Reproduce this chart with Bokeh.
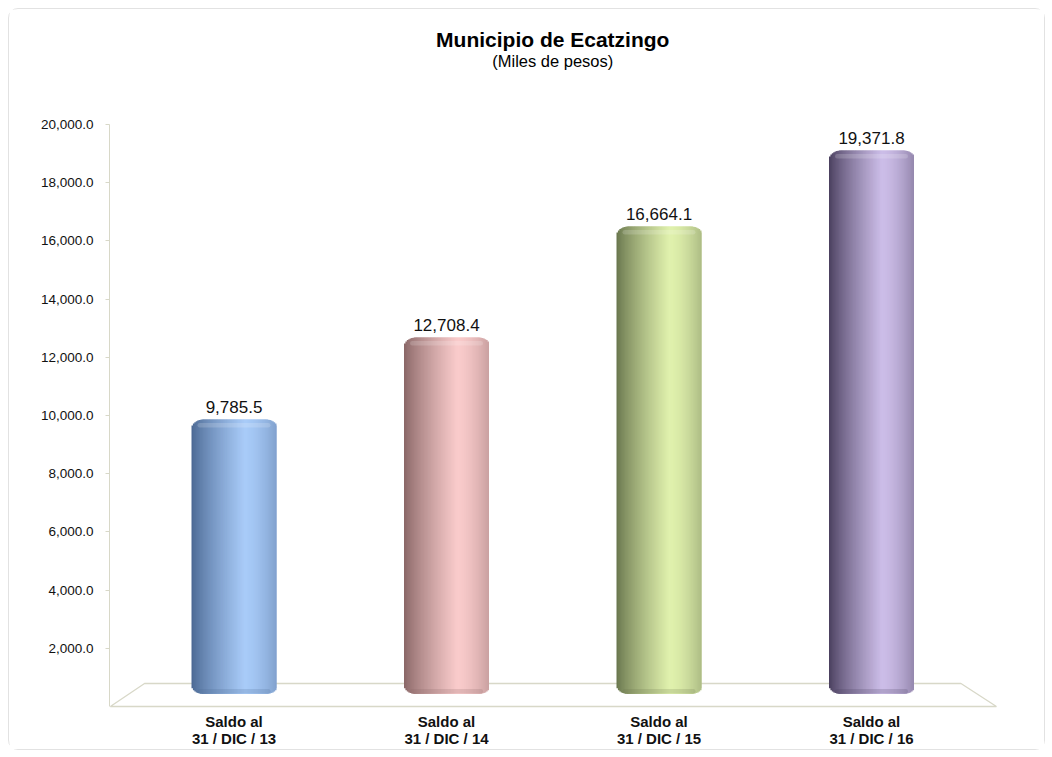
import math
from bokeh.plotting import figure
from bokeh.models import ColumnDataSource, Range1d, NumeralTickFormatter, FixedTicker
from bokeh.core.properties import value
from bokeh.embed import file_html
from bokeh.resources import INLINE

# ---------------- data ----------------
title_text = "Municipio de Ecatzingo"
subtitle_text = "(Miles de pesos)"
cat_line1 = ["Saldo al", "Saldo al", "Saldo al", "Saldo al"]
cat_line2 = ["31 / DIC / 13", "31 / DIC / 14", "31 / DIC / 15", "31 / DIC / 16"]
values = [9785.5, 12708.4, 16664.1, 19371.8]
y_ticks = [2000, 4000, 6000, 8000, 10000, 12000, 14000, 16000, 18000, 20000]
dark_colors = ["#4a6792", "#876565", "#67744c", "#483d5c"]
light_colors = ["#a8cbf8", "#f9cbcb", "#e0f1ad", "#ccbde8"]

# ---------------- layout (page pixels) ----------------
OX, OY = 8, 8                     # figure origin on page
W, H = 1037, 742
LEFT = 100                        # frame left at page x 108
FRAME_W, FRAME_H = W - LEFT, H

PX_X = 212.5                      # px per category
x_start = 0.5 - (232.5 - (OX + LEFT)) / PX_X
x_end = x_start + FRAME_W / PX_X

PAGE_BOTTOM = OY + H
PX_Y = 582 / 20000.0              # axis plane: 0 at page 705, 20000 at page 123
y_start = -(PAGE_BOTTOM - 705) / PX_Y
y_end = y_start + FRAME_H / PX_Y

PX_B = 0.02806                    # bar plane: 0 at page 692.6
b_start = -(PAGE_BOTTOM - 692.6) / PX_B
b_end = b_start + FRAME_H / PX_B

def page_y(py):
    return (705 - py) / PX_Y

FONT = "Liberation Sans"
AXIS_COLOR = "#d8d8c8"

p = figure(width=W, height=H, output_backend="svg", toolbar_location=None,
           x_range=Range1d(x_start, x_end), y_range=Range1d(y_start, y_end),
           min_border_left=LEFT, min_border_right=0,
           min_border_top=0, min_border_bottom=0)
p.extra_y_ranges = {"bars": Range1d(b_start, b_end)}
p.outline_line_color = None
p.grid.visible = False
p.xaxis.visible = False
p.background_fill_color = "white"
p.border_fill_color = "white"
p.styles = {"margin": "8px", "border": "1px solid #e2e2e2", "border-radius": "10px"}

ax = p.yaxis[0]
ax.ticker = FixedTicker(ticks=y_ticks)
ax.bounds = (0, 20000)
ax.formatter = NumeralTickFormatter(format="0,0.0")
ax.axis_line_color = AXIS_COLOR
ax.major_tick_line_color = AXIS_COLOR
ax.major_tick_out = 4
ax.major_tick_in = 0
ax.minor_tick_line_color = None
ax.major_label_standoff = 12
ax.major_label_text_font = FONT
ax.major_label_text_font_size = "13.5px"
ax.major_label_text_color = "#111111"

# ---------------- floor ----------------
n = len(values)
depth_units = 790
front_pad = 0.088
back_pad = 0.079
floor_x = [x_start + 0.004, n + front_pad, n - back_pad, back_pad]
floor_y = [0, 0, depth_units, depth_units]
p.patch(floor_x, floor_y, fill_color="white", fill_alpha=0.0,
        line_color=AXIS_COLOR, line_width=1.3)

# ---------------- cylinders ----------------
def hex2rgb(h):
    h = h.lstrip("#")
    return tuple(int(h[i:i + 2], 16) for i in (0, 2, 4))

def mix(c1, c2, g):
    a, b = hex2rgb(c1), hex2rgb(c2)
    return "#%02x%02x%02x" % tuple(int(round(a[j] + (b[j] - a[j]) * g)) for j in range(3))

N = 60
BAR_W = 0.4
bar_px = BAR_W * PX_X
RH, RV = 12.0, 9.0
OVER = 1.5 / PX_X
L, R, T, B, C = [], [], [], [], []
for i, v in enumerate(values):
    cx = i + 0.5
    left0 = cx - BAR_W / 2
    for k in range(N):
        t = (k + 0.5) / N
        if t < 0.62:
            g = (t / 0.62) ** 0.8
        else:
            g = 1 - 0.42 * ((t - 0.62) / 0.38) ** 1.6
        u = min(t, 1 - t) * bar_px
        drop = RV * (1 - math.sqrt(max(0.0, 1 - ((RH - u) / RH) ** 2))) if u < RH else 0.0
        l = left0 + k * BAR_W / N
        r = min(left0 + (k + 1) * BAR_W / N + OVER, left0 + BAR_W)
        L.append(l); R.append(r)
        T.append(v - drop / PX_B)
        B.append(drop / PX_B)
        C.append(mix(dark_colors[i], light_colors[i], g))

p.quad(left=L, right=R, top=T, bottom=B, fill_color=C, line_color=None,
       y_range_name="bars")

# top highlight and bottom shade (one shape per bar)
inset = 6 / PX_X
p.quad(left=[i + 0.5 - BAR_W / 2 + inset for i in range(n)],
       right=[i + 0.5 + BAR_W / 2 - inset for i in range(n)],
       top=[v - 3.5 / PX_B for v in values], bottom=[v - 8 / PX_B for v in values],
       fill_color="white", fill_alpha=0.17, line_color=None, border_radius=3,
       y_range_name="bars")
p.quad(left=[i + 0.5 - BAR_W / 2 + inset for i in range(n)],
       right=[i + 0.5 + BAR_W / 2 - inset for i in range(n)],
       top=[5 / PX_B] * n, bottom=[0.5 / PX_B] * n,
       fill_color=dark_colors, fill_alpha=0.2, line_color=None, border_radius=3,
       y_range_name="bars")

# ---------------- value labels ----------------
lab_src = ColumnDataSource(dict(
    x=[i + 0.5 for i in range(n)],
    y=[v + 7 / PX_B for v in values],
    text=[f"{v:,.1f}" for v in values]))
p.text(x="x", y="y", text="text", source=lab_src, y_range_name="bars",
       text_align="center", text_baseline="bottom",
       text_font=value(FONT), text_font_size="17px", text_color="#111111")

# ---------------- category labels ----------------
cat_src = ColumnDataSource(dict(
    x=[i + 0.5 for i in range(n)],
    y1=[page_y(720)] * n, y2=[page_y(737)] * n,
    t1=cat_line1, t2=cat_line2))
for yk, tk in (("y1", "t1"), ("y2", "t2")):
    p.text(x="x", y=yk, text=tk, source=cat_src,
           text_align="center", text_baseline="middle",
           text_font=value(FONT), text_font_size="15px",
           text_font_style="bold", text_color="#111111")

# ---------------- titles ----------------
p.text(x=[n / 2], y=[page_y(38)], text=[title_text], text_align="center",
       text_baseline="middle", text_font=value(FONT), text_font_size="21px",
       text_font_style="bold", text_color="#000000")
p.text(x=[n / 2], y=[page_y(59)], text=[subtitle_text], text_align="center",
       text_baseline="middle", text_font=value(FONT), text_font_size="16.5px",
       text_color="#000000")

open("out.html", "w").write(file_html(p, INLINE))
